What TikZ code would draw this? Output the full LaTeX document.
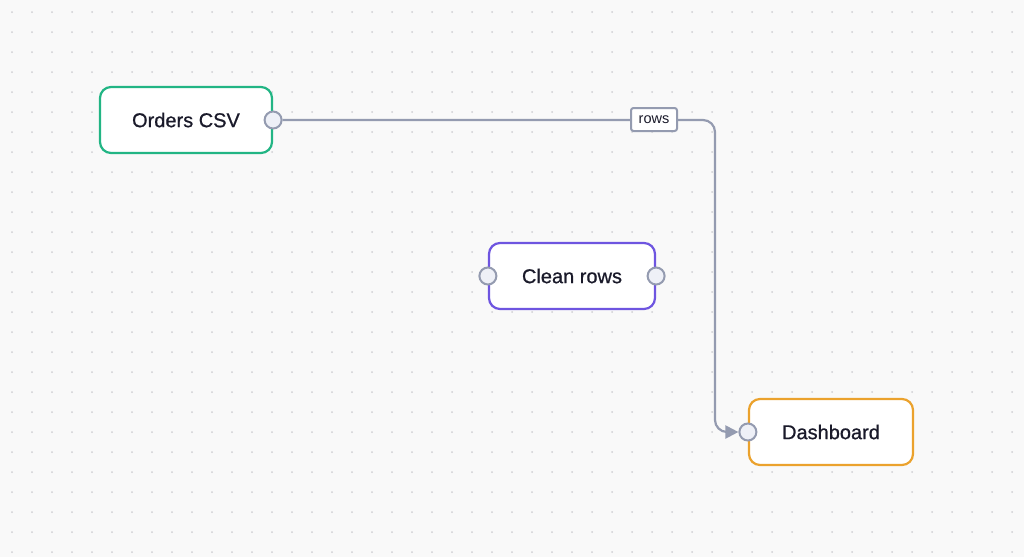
\documentclass[tikz,border=0pt]{standalone}
\usepackage{fontspec}
\setmainfont{Liberation Sans}
\newfontfamily\medfont{Liberation Sans}[FakeBold=0.7]
\usetikzlibrary{arrows.meta}
\definecolor{bg}{HTML}{F9F9F9}
\definecolor{dotc}{HTML}{D0D0D4}
\definecolor{edgec}{HTML}{949BB0}
\definecolor{handlec}{HTML}{EEF0F7}
\definecolor{greenc}{HTML}{22B584}
\definecolor{purplec}{HTML}{6E55E0}
\definecolor{orangec}{HTML}{EBA22D}
\definecolor{textc}{HTML}{1A1A2A}
\begin{document}
\begin{tikzpicture}[
            x = 1pt, y = -1pt,
            > = {Triangle[length=13pt,width=13pt]},
            box/.style = {draw, line width=2.2pt, rounded corners=11pt, fill=white,
                minimum height=66pt, text=textc, font=\medfont\fontsize{20}{24}\selectfont},
            handle/.style = {circle, draw=edgec, fill=handlec, line width=2pt,
                minimum size=17pt, inner sep=0pt},
            lbl/.style = {draw=edgec, fill=white, line width=2pt, rounded corners=2.5pt,
                minimum width=46pt, minimum height=23pt, inner sep=2pt,
                font=\fontsize{14.5}{17}\selectfont, text=textc}
        ]
        % canvas
        \fill[bg] (0,0) rectangle (1024,557);
        \useasboundingbox (0,0) rectangle (1024,557);
        \foreach \i in {0,...,51} {
            \foreach \j in {0,...,27} {
                \fill[dotc] (12+20*\i,12+20*\j) circle (1pt);
            }
        }

        % nodes
        \node[box, draw=greenc, minimum width=172pt] (orders) at (186,120) {Orders CSV};
        \node[box, draw=purplec, minimum width=166pt] (clean) at (572,276) {Clean rows};
        \node[box, draw=orangec, minimum width=164pt] (dash) at (831,432) {Dashboard};

        % handles
        \node[handle] (ordersout) at (orders.east) {};
        \node[handle] (cleanin) at (clean.west) {};
        \node[handle] (cleanout) at (clean.east) {};
        \node[handle] (dashin) at (dash.west) {};

        % edge
        \coordinate (bend) at (715,120);
        \draw[->, edgec, line width=2.2pt, rounded corners=12pt]
            (ordersout) -- (bend) -- (bend |- dashin) -- (dashin);
        \node[lbl] (rowslbl) at (654,119.5) {rows};
  \end{tikzpicture}
\end{document}
